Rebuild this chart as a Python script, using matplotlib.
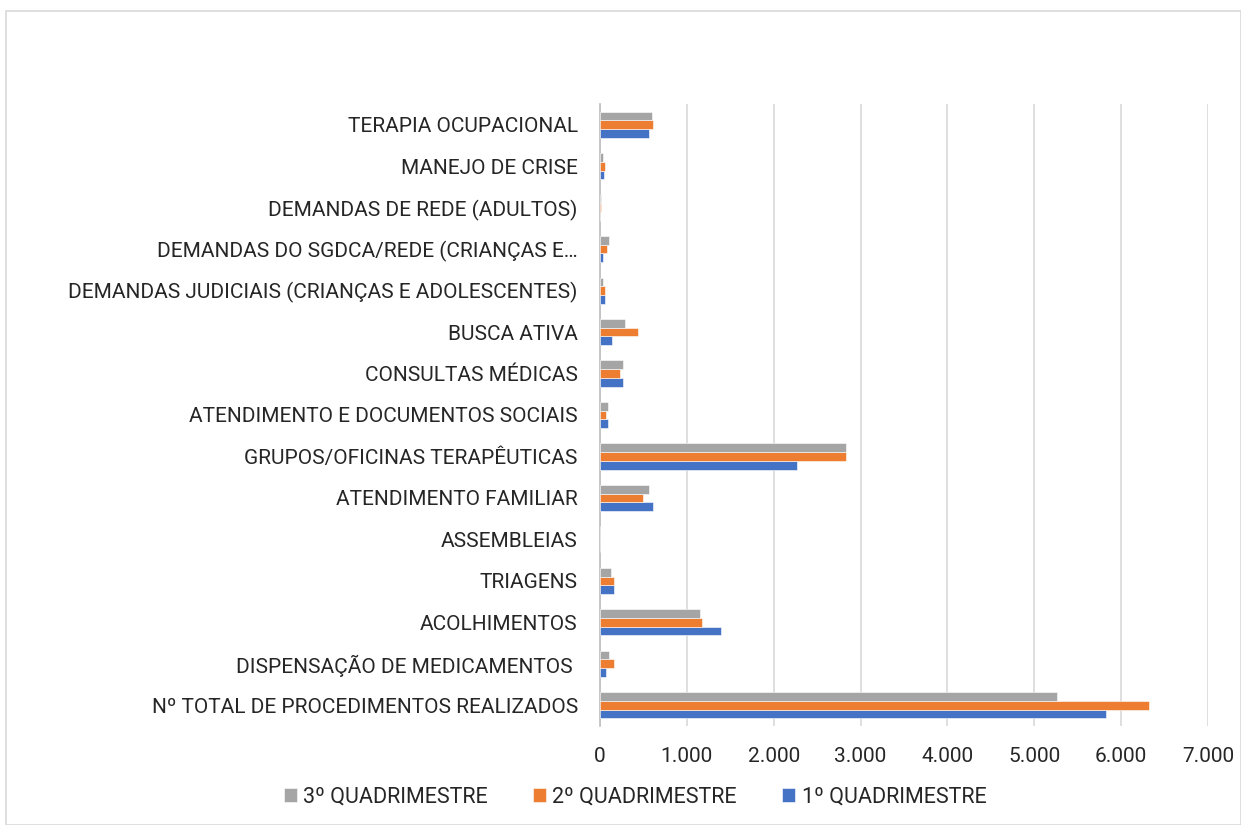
import matplotlib
matplotlib.use("Agg")
import matplotlib.pyplot as plt
import numpy as np
from matplotlib.ticker import FuncFormatter
from matplotlib.patches import Rectangle

plt.rcParams["font.family"] = ["Roboto", "DejaVu Sans"]

# Categories listed bottom to top
categories = [
    "Nº TOTAL DE PROCEDIMENTOS REALIZADOS",
    "DISPENSAÇÃO DE MEDICAMENTOS ",
    "ACOLHIMENTOS",
    "TRIAGENS",
    "ASSEMBLEIAS",
    "ATENDIMENTO FAMILIAR",
    "GRUPOS/OFICINAS TERAPÊUTICAS",
    "ATENDIMENTO E DOCUMENTOS SOCIAIS",
    "CONSULTAS MÉDICAS",
    "BUSCA ATIVA",
    "DEMANDAS JUDICIAIS (CRIANÇAS E ADOLESCENTES)",
    "DEMANDAS DO SGDCA/REDE (CRIANÇAS E…",
    "DEMANDAS DE REDE (ADULTOS)",
    "MANEJO DE CRISE",
    "TERAPIA OCUPACIONAL",
]

q1 = [5825, 66, 1392, 158, 0, 611, 2268, 92, 262, 142, 54, 38, 0, 42, 569]
q2 = [6317, 158, 1173, 158, 0, 500, 2837, 73, 227, 435, 54, 77, 10, 61, 608]
q3 = [5260, 104, 1146, 123, 0, 565, 2837, 92, 262, 285, 38, 100, 12, 31, 596]

series = [
    ("1º QUADRIMESTRE", q1, "#4472C4"),
    ("2º QUADRIMESTRE", q2, "#ED7D31"),
    ("3º QUADRIMESTRE", q3, "#A5A5A5"),
]

fig = plt.figure(figsize=(12.41, 8.25), dpi=100)
ax = fig.add_axes([600 / 1241, 1 - 726 / 825, 608 / 1241, 622 / 825])

y = np.arange(len(categories))
h = 0.21
offsets = [-h, 0, h]
handles = {}
for (name, vals, color), off in zip(series, offsets):
    handles[name] = ax.barh(y + off, vals, height=h, color=color,
                            edgecolor="white", linewidth=0.4, zorder=3)

ax.set_xlim(0, 7000)
ax.set_ylim(-0.5, len(categories) - 0.5)
ax.set_xticks(range(0, 7001, 1000))
ax.xaxis.set_major_formatter(FuncFormatter(lambda v, p: f"{int(v):,}".replace(",", ".")))
ax.set_yticks(y)
ax.set_yticklabels(categories)
ax.tick_params(axis="both", length=0, labelsize=15, colors="#262626")
ax.tick_params(axis="y", pad=16)
ax.tick_params(axis="x", pad=15)
ax.grid(axis="x", color="#D9D9D9", linewidth=1.2, zorder=0)
for s in ["top", "right", "bottom"]:
    ax.spines[s].set_visible(False)
ax.spines["left"].set_color("#BFBFBF")
ax.spines["left"].set_linewidth(1.2)

leg = fig.legend(
    [handles["3º QUADRIMESTRE"], handles["2º QUADRIMESTRE"], handles["1º QUADRIMESTRE"]],
    ["3º QUADRIMESTRE", "2º QUADRIMESTRE", "1º QUADRIMESTRE"],
    loc="center", bbox_to_anchor=(635 / 1241, 1 - 797 / 825), ncol=3,
    frameon=False, fontsize=15.5, handlelength=0.6, handleheight=0.6,
    columnspacing=2.1, handletextpad=0.3,
)
for t in leg.get_texts():
    t.set_color("#262626")

# Outer chart border
fig.patches.append(Rectangle((6 / 1241, 0), 1 - 6 / 1241, 1 - 11 / 825, transform=fig.transFigure,
                             fill=False, edgecolor="#D9D9D9", linewidth=1.2))

fig.savefig("out.png", dpi=100)
